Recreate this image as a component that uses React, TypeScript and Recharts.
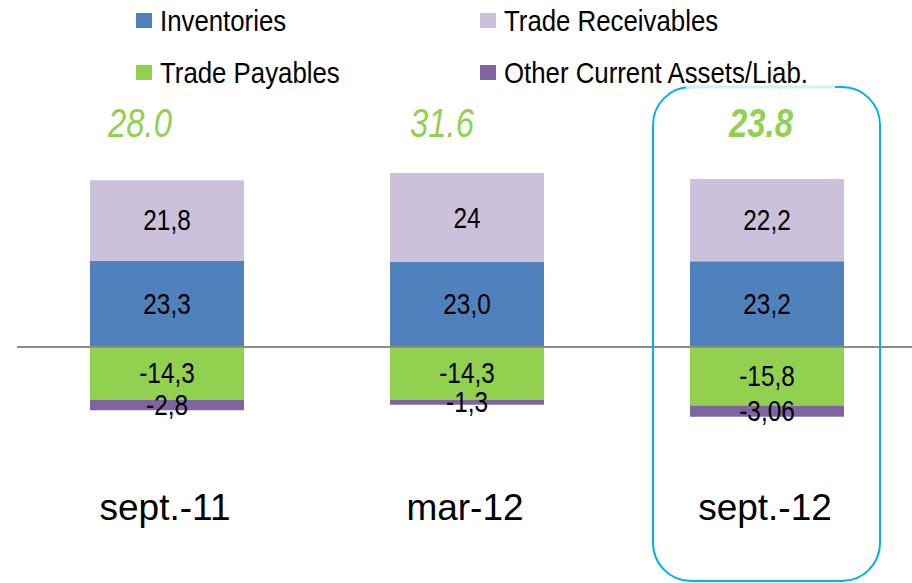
import React from 'react';
import { BarChart, Bar, XAxis, YAxis, ReferenceLine, LabelList } from 'recharts';

const categories = ['sept.-11', 'mar-12', 'sept.-12'];
const inventories = [23.3, 23.0, 23.2];
const receivables = [21.8, 24, 22.2];
const payables = [-14.3, -14.3, -15.8];
const others = [-2.8, -1.3, -3.06];
const inventoriesLabels = ['23,3', '23,0', '23,2'];
const receivablesLabels = ['21,8', '24', '22,2'];
const payablesLabels = ['-14,3', '-14,3', '-15,8'];
const othersLabels = ['-2,8', '-1,3', '-3,06'];
const totals = ['28.0', '31.6', '23.8'];

const seriesNames = ['Inventories', 'Trade Receivables', 'Trade Payables', 'Other Current Assets/Liab.'];
const seriesColors = ['#4F81BD', '#CCC1DA', '#92D050', '#8064A2'];

const data = categories.map((c, i) => ({
  cat: c,
  inv: inventories[i],
  rec: receivables[i],
  pay: payables[i],
  oth: others[i],
  invL: inventoriesLabels[i],
  recL: receivablesLabels[i],
  payL: payablesLabels[i],
  othL: othersLabels[i],
  total: totals[i],
}));

const SANS = '"Liberation Sans", Arial, sans-serif';
const totalOffsets = [-27, -25, -6];

const NarrowText = ({ x, y, scale, children, ...rest }: any) => (
  <text transform={`translate(${x},${y}) scale(${scale},1)`} x={0} y={0} fontFamily={SANS} {...rest}>
    {children}
  </text>
);

const valueLabel = (props: any) => {
  const { x, y, width, height, value } = props;
  return (
    <NarrowText x={x + width / 2} y={y + height / 2 + 10} scale={0.84} textAnchor="middle"
      fontSize={29} fill="#000">{value}</NarrowText>
  );
};

const totalLabel = (props: any) => {
  const { x, width, value, index } = props;
  return (
    <NarrowText x={x + width / 2 + totalOffsets[index]} y={137} scale={0.8} textAnchor="middle"
      fontStyle="italic" fontWeight={index === 2 ? 'bold' : 'normal'}
      fontSize={41} fill="#92D050">{value}</NarrowText>
  );
};

const catLabel = (props: any) => {
  const { x, width, index } = props;
  return (
    <text x={x + width / 2 - 2} y={520} textAnchor="middle" fontFamily={SANS} fontSize={37} fill="#000">
      {categories[index]}
    </text>
  );
};

export default function App() {
  return (
    <div style={{ position: 'absolute', left: 0, top: 0, width: 912, height: 583, overflow: 'hidden', background: '#fff' }}>
      <BarChart width={917} height={583} data={data} stackOffset="sign"
        margin={{ top: 51, right: 0, bottom: 14, left: 17 }} barSize={154}>
        <XAxis dataKey="cat" hide />
        <YAxis hide domain={[-60, 80]} />
        <Bar dataKey="inv" stackId="a" fill={seriesColors[0]} isAnimationActive={false}>
          <LabelList dataKey="invL" content={valueLabel} />
        </Bar>
        <Bar dataKey="rec" stackId="a" fill={seriesColors[1]} isAnimationActive={false}>
          <LabelList dataKey="recL" content={valueLabel} />
          <LabelList dataKey="total" content={totalLabel} />
        </Bar>
        <Bar dataKey="pay" stackId="a" fill={seriesColors[2]} isAnimationActive={false}>
          <LabelList dataKey="payL" content={valueLabel} />
        </Bar>
        <Bar dataKey="oth" stackId="a" fill={seriesColors[3]} isAnimationActive={false}>
          <LabelList dataKey="othL" content={valueLabel} />
          <LabelList dataKey="cat" content={catLabel} />
        </Bar>
        <ReferenceLine y={0} stroke="#8C8C8C" strokeWidth={2} />
      </BarChart>
      <svg width={912} height={583} style={{ position: 'absolute', left: 0, top: 0, pointerEvents: 'none' }}>
        <rect x={653} y={87} width={227} height={494} rx={38} ry={38} fill="none" stroke="#00B0F0" strokeWidth={2} />
        <line x1={686} y1={87} x2={835} y2={87} stroke="#D4EDF9" strokeWidth={3} />
        {seriesNames.map((n, i) => {
          const col = i % 2;
          const row = Math.floor(i / 2);
          const sx = col === 0 ? 136 : 480;
          const sy = row === 0 ? 13 : 65;
          return (
            <g key={n}>
              <rect x={sx} y={sy} width={16} height={15} fill={seriesColors[i]} />
              <NarrowText x={sx + 24} y={sy + 18} scale={0.89} fontSize={29} fill="#000">{n}</NarrowText>
            </g>
          );
        })}
      </svg>
    </div>
  );
}
